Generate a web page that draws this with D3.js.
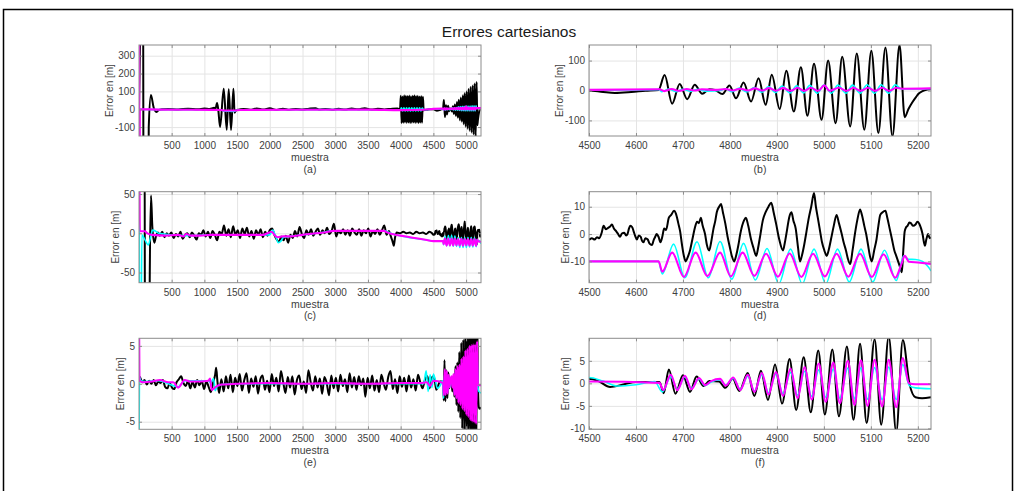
<!DOCTYPE html>
<html>
<head>
<meta charset="utf-8">
<script src="https://cdn.jsdelivr.net/npm/d3@7"></script>
<style>
  body { margin: 0; background: #fff; }
  svg text { font-family: "Liberation Sans", Arial, Helvetica, sans-serif; }
</style>
</head>
<body>
<svg id="fig" width="1017" height="491"></svg>
<script>
// ---------- Ejes y marcas ----------
const rangoCompleto = [1, 5228];
const rangoDetalle = [4500, 5228];
const ticksCompleto = [500, 1000, 1500, 2000, 2500, 3000, 3500, 4000, 4500, 5000];
const ticksDetalle = [4500, 4600, 4700, 4800, 4900, 5000, 5100, 5200];
const limA = [-150, 360], ticksYA = [-100, 0, 100, 200, 300];
const limB = [-152, 152], ticksYB = [-100, 0, 100];
const limC = [-63, 53],   ticksYC = [-50, 0, 50];
const limD = [-17.8, 15.5], ticksYD = [-10, 0, 10];
const limE = [-6, 6],     ticksYE = [-5, 0, 5];
const limF = [-10.2, 10], ticksYF = [-10, -5, 0, 5];

// ---------- Fila 1: error en la primera coordenada [muestra, valor] ----------
const negroF1 = [[1,0],[62,1000],[72,-1000],[138,-1000],[150,-100],[183,80],[225,10],[265,-15],[300,-5],[350,0],[450,2],[600,-1],[750,3],[900,0],[1000,4],[1080,2],[1150,8],[1170,3],[1194,35],[1212,0],[1240,-100],[1296,115],[1342,-115],[1372,112],[1408,-116],[1444,115],[1462,-20],[1480,-8],[1520,-2],[1600,2],[1700,-3],[1800,4],[1900,-2],[2000,5],[2100,-4],[2200,3],[2300,-3],[2400,2],[2500,-2],[2600,3],[2700,6],[2750,-1],[2850,2],[2950,-3],[3050,3],[3150,-2],[3250,4],[3350,0],[3450,6],[3550,-2],[3650,3],[3750,-1],[3850,2],[3950,4],[3990,0],[4003,75],[4015,-78],[4028,72],[4041,-76],[4054,78],[4067,-74],[4080,76],[4093,-77],[4106,74],[4119,-75],[4132,77],[4145,-78],[4158,73],[4171,-76],[4184,76],[4197,-74],[4210,78],[4223,-77],[4236,74],[4249,-75],[4262,76],[4275,-78],[4288,72],[4301,-75],[4314,74],[4327,-76],[4340,70],[4352,-5],[4400,-3],[4450,0],[4500,0],[4530,-5],[4555,-8],[4590,-5],[4620,-1],[4648,2],[4661,52],[4677,-44],[4693,22],[4709,-29],[4725,19],[4741,-11],[4756,4],[4768,2],[4784,-12],[4799,17],[4813,-26],[4829,27],[4845,-37],[4861,41],[4876,-48],[4889,53],[4906,-62],[4920,66],[4936,-70],[4951,78],[4965,-84],[4979,89],[4995,-98],[5009,100],[5025,-109],[5039,113],[5056,-120],[5070,124],[5086,-131],[5101,133],[5116,-142],[5131,144],[5146,-153],[5161,152],[5172,-89],[5180,-62],[5188,-40],[5196,-22],[5202,-10],[5210,-2],[5220,3],[5228,5]];
const cianF1 = [[1,0],[300,-2],[1250,-3],[1290,-10],[1450,-12],[1500,-5],[2000,-3],[3000,-2],[4000,-3],[4010,8],[4030,-10],[4050,8],[4070,-10],[4090,8],[4110,-10],[4130,8],[4150,-10],[4170,8],[4190,-10],[4210,8],[4230,-10],[4250,8],[4270,-10],[4290,8],[4310,-10],[4330,6],[4350,-3],[4500,1],[4650,3],[4655,-4],[4670,5],[4685,-4],[4700,4],[4716,-3],[4732,4],[4748,-2],[4780,0],[4790,6],[4805,-4],[4820,8],[4836,-5],[4852,10],[4868,-6],[4882,13],[4897,-7],[4911,15],[4928,-8],[4942,16],[4957,-8],[4970,17],[4986,-9],[5000,18],[5016,-9],[5030,18],[5047,-9],[5061,18],[5077,-9],[5092,19],[5108,-9],[5122,19],[5138,-9],[5152,19],[5165,5],[5228,6]];
const magentaF1 = [[1,2000],[8,-1000],[14,0],[300,-2],[800,-3],[1250,-4],[1300,-7],[1450,-7],[1550,-4],[2500,-3],[3500,-2],[4000,-5],[4350,-3],[4500,2],[4650,4],[4660,-2],[4676,5],[4692,-1],[4708,5],[4724,0],[4740,4],[4770,2],[4791,5],[4806,0],[4822,6],[4838,0],[4853,7],[4869,0],[4883,8],[4898,-1],[4913,8],[4929,-1],[4944,9],[4958,-1],[4972,9],[4988,-1],[5001,17],[5012,-1],[5032,9],[5048,-1],[5063,9],[5078,-1],[5094,9],[5109,-1],[5124,9],[5139,-1],[5154,9],[5166,6],[5228,7]];

// ---------- Fila 2: error en la segunda coordenada ----------
const negroF2 = [[1,100],[85,200],[95,-300],[150,-300],[165,-60],[184,48],[205,8],[235,-12],[260,-4],[290,1],[320,-3],[355,2],[390,-5],[425,0],[460,-3],[495,1],[530,-6],[565,-1],[600,-4],[635,2],[670,-7],[705,-2],[740,0],[775,-5],[810,1],[845,-3],[880,-8],[915,0],[950,-2],[985,4],[1020,-4],[1055,2],[1090,-6],[1125,3],[1160,-2],[1195,-9],[1230,2],[1265,-1],[1300,10],[1335,-3],[1370,5],[1405,-5],[1440,9],[1475,-2],[1510,4],[1545,-6],[1580,6],[1615,-1],[1650,7],[1685,-4],[1720,3],[1755,-7],[1790,4],[1825,-2],[1860,5],[1895,-5],[1930,2],[1965,-3],[2000,4],[2035,6],[2070,-2],[2105,-8],[2140,-11],[2175,-4],[2210,-9],[2245,-3],[2280,-12],[2315,-2],[2350,-6],[2385,3],[2420,-4],[2455,8],[2490,-1],[2525,-6],[2560,4],[2595,-2],[2630,5],[2665,-3],[2700,2],[2735,6],[2770,-2],[2805,4],[2840,0],[2875,7],[2910,-1],[2945,3],[2980,12],[3015,-4],[3050,3],[3085,0],[3120,5],[3155,-2],[3190,4],[3225,-3],[3260,6],[3295,1],[3330,-2],[3365,5],[3400,-3],[3435,4],[3470,0],[3505,6],[3540,-4],[3575,3],[3610,-1],[3645,5],[3680,-2],[3715,4],[3750,10],[3785,-2],[3820,3],[3850,-4],[3875,-10],[3895,-16],[3915,-5],[3940,1],[3990,0],[4040,2],[4090,0],[4140,1],[4190,-1],[4240,2],[4290,0],[4340,1],[4390,-1],[4440,2],[4480,0],
  [4500,-2],[4506,-1.5],[4512,-2],[4517,-1.2],[4522,-1.5],[4527,0.5],[4531,3],[4536,1.8],[4540,2.2],[4545,2.8],[4549,3.5],[4553,2],[4558,1],[4562,0],[4566,-1],[4570,0.2],[4575,0.5],[4579,-0.5],[4582,0],[4585,2],[4588,3],[4592,2.5],[4595,1],[4599,-1],[4602,-2],[4606,-0.5],[4610,-1],[4613,-2.5],[4616,-3],[4620,-1.5],[4625,-2],[4629,-3.5],[4634,-4],[4638,-2],[4641,-1],[4644,0],[4648,-1],[4652,-3],[4656,-1],[4660,2],[4664,1.5],[4670,6],[4675,7],[4681,8.5],[4685,7.5],[4690,4],[4694,1],[4698,-4],[4702,-8],[4706,-10],[4710,-8.5],[4715,-6],[4720,-2],[4725,2],[4730,4.5],[4734,4],[4738,6],[4742,3],[4747,0],[4751,-4],[4756,-6],[4760,-3],[4765,2],[4769,5],[4772,8],[4777,10],[4781,11],[4785,8],[4790,4],[4795,-1],[4800,-5],[4804,-8],[4809,-10],[4813,-8],[4818,-4],[4822,0],[4826,3],[4830,5],[4834,6],[4839,3],[4845,-2],[4850,-5],[4856,-8],[4860,-5],[4865,0],[4870,5],[4876,8],[4882,10],[4888,11.5],[4893,8],[4898,4],[4905,-2],[4913,-6],[4917,-3],[4922,2],[4926,6],[4931,8],[4935,5],[4940,2],[4945,-5],[4949,-10],[4953,-8],[4958,-4],[4963,1],[4968,6],[4973,10],[4979,15],[4983,10],[4987,6],[4991,2],[4996,-3],[5001,-6],[5006,-8],[5010,-6],[5015,-2],[5021,3],[5027,7],[5032,4],[5038,0],[5042,-3],[5047,-6],[5051,-9],[5056,-11],[5061,-6],[5066,0],[5071,5],[5077,9],[5081,7],[5086,3],[5090,0],[5094,-4],[5098,-8],[5102,-10],[5107,-6],[5112,-2],[5116,3],[5120,7],[5125,8],[5131,8.5],[5135,6],[5140,2],[5145,-2],[5150,-6],[5154,-8],[5158,-10],[5162,-12],[5166,-14],[5169,-6],[5172,1],[5175,2.5],[5178,3],[5182,4.2],[5185,4],[5190,3],[5195,3.5],[5199,4.5],[5203,3.8],[5207,2],[5210,0],[5213,-3],[5215,-4.3],[5218,-2],[5222,0],[5225,-1.5],[5228,-1.2]];
const cianF2 = [[1,100],[18,-200],[28,-200],[45,-2],[90,-8],[143,-15],[175,-6],[210,4],[250,3],[300,0],[700,-3],[1200,-2],[2000,-2],[2045,4],[2090,-4],[2130,-12],[2170,-10],[2210,-5],[2300,-4],[2800,1],[2950,3],[3750,3],[3880,-1],[4100,-5],[4400,-8.5],[4500,-10],[4648,-10],[4656,-14.6],[4680,-3.7],[4704,-16],[4730,-2.8],[4754,-16],[4779,-2.7],[4804,-16.5],[4829,-3.4],[4854,-16.8],[4879,-5.3],[4904,-18.2],[4929,-5.5],[4954,-18.2],[4979,-5.5],[5004,-18.2],[5029,-5.5],[5054,-17.5],[5079,-5.5],[5104,-17.5],[5129,-5.9],[5154,-17],[5170,-8],[5180,-9.2],[5195,-9.3],[5210,-10],[5222,-12],[5228,-13.5]];
const magentaF2 = [[1,300],[14,2.5],[90,2.5],[130,0],[200,-2],[400,-3],[600,-2],[680,-4],[720,-1],[800,-3],[930,-3],[1100,-2],[1500,-2],[1900,-2],[2030,2],[2080,-3],[2120,-5],[2200,-4],[2300,-4],[2500,-2],[2700,0],[2830,1],[2980,3],[3400,3],[3740,3],[3800,1],[3870,-1],[4000,-3],[4144,-5],[4400,-8.5],[4500,-10],[4648,-10],[4656,-13.8],[4677,-6.8],[4702,-15.7],[4727,-6.8],[4752,-15.4],[4779,-6.8],[4802,-15.5],[4827,-6.8],[4852,-15.3],[4877,-7.2],[4902,-15.6],[4927,-7.1],[4952,-15.7],[4977,-7.2],[5002,-15.5],[5027,-7.2],[5052,-15.6],[5077,-7.2],[5102,-15.7],[5127,-7.4],[5152,-16],[5165,-11],[5172,-8],[5181,-10.1],[5200,-10.4],[5228,-10.9]];

// ---------- Fila 3: error en la tercera coordenada ----------
const negroF3 = [[1,1],[20,0.8],[50,0.2],[85,0.5],[120,-0.1],[155,0.4],[190,0],[225,0.5],[260,-0.2],[295,0.3],[330,0.1],[365,0.5],[400,-0.4],[435,-0.6],[470,0.1],[505,-0.5],[540,-0.7],[575,0.2],[610,0.6],[645,1.0],[680,0.1],[715,-0.3],[750,0.4],[785,-0.6],[820,0.3],[855,-0.5],[890,0.5],[925,-0.2],[960,0.4],[995,-0.7],[1030,0.3],[1065,-0.4],[1100,-1.1],[1135,0.2],[1165,1.2],[1180,2.1],[1200,0.3],[1225,-1.2],[1260,0.6],[1295,-1.0],[1330,1.0],[1365,-0.6],[1400,1.2],[1435,-1.1],[1470,0.8],[1505,-0.3],[1540,1.3],[1575,-0.9],[1610,0.5],[1645,1.4],[1680,-1.2],[1715,0.7],[1750,-0.4],[1785,1.0],[1820,-1.3],[1855,0.6],[1890,1.1],[1925,-0.8],[1960,0.4],[1995,-1.1],[2030,1.3],[2065,-0.3],[2100,0.8],[2135,-1.0],[2170,1.7],[2205,0.2],[2240,-1.2],[2275,0.9],[2310,-0.5],[2345,1.0],[2380,-1.4],[2415,0.5],[2450,1.1],[2485,-0.7],[2520,0.3],[2555,-1.2],[2590,1.8],[2625,0.2],[2660,-0.9],[2695,1.0],[2730,-0.5],[2765,0.7],[2800,-1.3],[2835,0.9],[2870,0.1],[2905,-1.5],[2940,1.1],[2975,-0.6],[3010,0.8],[3045,-1.0],[3080,1.2],[3115,-0.3],[3150,0.6],[3185,-1.1],[3220,1.4],[3255,-0.5],[3290,0.9],[3325,-0.8],[3360,1.0],[3395,-0.2],[3430,0.7],[3460,-1.7],[3495,0.8],[3530,-0.6],[3565,1.1],[3600,-0.9],[3635,0.5],[3670,-1.1],[3705,1.2],[3740,0.1],[3775,-0.8],[3810,0.9],[3845,1.7],[3880,-0.7],[3915,0.6],[3950,-1.2],[3985,1.0],[4020,-0.4],[4055,0.8],[4090,-1.0],[4125,1.1],[4160,-0.5],[4195,0.6],[4230,-0.9],[4265,1.2],[4300,0.2],[4335,-0.6],[4370,0.5],[4410,1.0],[4440,-0.6],[4470,0.7],[4500,1.0],[4520,0.5],[4545,-0.8],[4575,-0.2],[4600,0.3],[4650,0.3],[4659,-2.2],[4670,3.1],[4684,-2.3],[4700,1.8],[4715,-1.9],[4729,1.5],[4744,-0.6],[4756,0.5],[4777,0.4],[4790,-1],[4806,1],[4820,-1.7],[4838,2.3],[4852,-2.8],[4866,2.8],[4881,-3.7],[4896,4.2],[4911,-4.5],[4927,5.4],[4941,-5.9],[4957,5.8],[4972,-6.4],[4988,7.3],[5002,-6.9],[5018,7.5],[5032,-7.3],[5049,8.2],[5063,-8.1],[5077,8.8],[5091,-8.8],[5108,9.8],[5122,-9.2],[5138,10.4],[5154,-10.8],[5168,9.6],[5182,0],[5195,-3.1],[5209,-3.3],[5228,-3.1]];
const cianF3 = [[1,-10],[10,0.9],[30,0.4],[100,0.3],[300,0.4],[600,-0.4],[700,0.4],[1060,0.4],[1095,0.1],[1140,0.7],[1165,-0.9],[1200,-0.3],[1265,-0.1],[1500,0],[4000,0],[4350,0],[4390,1.7],[4420,-1.0],[4450,1.2],[4480,-0.5],[4500,1.3],[4530,0.5],[4560,-0.6],[4600,-0.3],[4640,0.4],[4656,-1.9],[4674,1.5],[4688,-1.3],[4704,1.4],[4718,-1.1],[4734,1.0],[4747,-0.5],[4760,0.3],[4779,0.8],[4791,-0.4],[4807,1.1],[4822,-1.3],[4838,1.6],[4852,-1.7],[4868,1.9],[4882,-2.1],[4898,2.1],[4913,-2.3],[4929,2.4],[4944,-2.6],[4959,2.7],[4974,-2.9],[4989,3.0],[5004,-3.1],[5020,3.2],[5034,-3.3],[5051,3.4],[5065,-3.4],[5079,3.5],[5093,-3.5],[5108,3.5],[5124,-3.6],[5138,3.6],[5154,-3.6],[5168,4.2],[5182,-0.5],[5195,-1.0],[5228,-1.2]];
const magentaF3 = [[1,10],[8,0.4],[70,0.2],[200,0.3],[320,0.5],[450,0.2],[525,0.2],[600,-0.5],[700,0.5],[780,0.3],[930,0.3],[1060,0.4],[1087,0.7],[1112,-0.8],[1190,-0.3],[1265,-0.1],[1500,0],[2000,0.1],[2500,0],[3000,0.1],[3500,0],[4000,0.1],[4300,0.1],[4400,0.2],[4450,-0.3],[4500,0.4],[4650,0.1],[4658,-1.5],[4674,1.9],[4688,-1.5],[4704,1.7],[4718,-1.3],[4734,1.2],[4747,-0.4],[4760,0.5],[4779,1.0],[4791,-0.5],[4807,1.3],[4822,-1.5],[4838,1.9],[4852,-1.9],[4868,2.3],[4882,-2.5],[4898,2.5],[4913,-2.8],[4929,3.3],[4944,-3.3],[4959,3.6],[4974,-3.6],[4989,4.4],[5004,-4.1],[5020,4.6],[5034,-4.4],[5051,5.0],[5065,-4.8],[5079,5.1],[5093,-5.0],[5108,5.2],[5124,-5.1],[5138,5.2],[5154,-5.3],[5168,5.6],[5181,0],[5195,-0.2],[5228,-0.2]];

// ---------- Composición de la figura ----------
const colores = { negro: "#000000", cian: "#00ffff", magenta: "#ff00ff" };
const grosores = { negro: 2, cian: 1.6, magenta: 2.1 };
const filas = [
  { negro: negroF1, cian: cianF1, magenta: magentaF1 },
  { negro: negroF2, cian: cianF2, magenta: magentaF2 },
  { negro: negroF3, cian: cianF3, magenta: magentaF3 }
];
const paneles = [
  { nombre: "(a)", fila: 0, col: 0, xDom: rangoCompleto, xTicks: ticksCompleto, yDom: limA, yTicks: ticksYA },
  { nombre: "(b)", fila: 0, col: 1, xDom: rangoDetalle,  xTicks: ticksDetalle,  yDom: limB, yTicks: ticksYB },
  { nombre: "(c)", fila: 1, col: 0, xDom: rangoCompleto, xTicks: ticksCompleto, yDom: limC, yTicks: ticksYC },
  { nombre: "(d)", fila: 1, col: 1, xDom: rangoDetalle,  xTicks: ticksDetalle,  yDom: limD, yTicks: ticksYD },
  { nombre: "(e)", fila: 2, col: 0, xDom: rangoCompleto, xTicks: ticksCompleto, yDom: limE, yTicks: ticksYE },
  { nombre: "(f)", fila: 2, col: 1, xDom: rangoDetalle,  xTicks: ticksDetalle,  yDom: limF, yTicks: ticksYF }
];

const izquierda = [139, 589];
const arriba = [45, 191.7, 338.3];
const W = 342, H = 91;
const colorTexto = "#404040";
const colorCaja = "#8c8c8c";
const colorRejilla = "#e4e4e4";
const tamTexto = 10;

const svg = d3.select("#fig");
svg.append("rect").attr("width", 1017).attr("height", 491).attr("fill", "#fff");

// marco exterior
svg.append("rect")
  .attr("x", 3.5).attr("y", 9.5).attr("width", 1009).attr("height", 492)
  .attr("fill", "none").attr("stroke", "#000").attr("stroke-width", 1.5);

svg.append("text")
  .attr("x", 509).attr("y", 36.5)
  .attr("text-anchor", "middle")
  .attr("font-size", 15.5)
  .attr("fill", "#1a1a1a")
  .text("Errores cartesianos");

const fmt = d => String(d);

paneles.forEach((p, i) => {
  const x0 = izquierda[p.col], y0 = arriba[p.fila];
  const g = svg.append("g").attr("transform", `translate(${x0},${y0})`);
  const x = d3.scaleLinear().domain(p.xDom).range([0, W]);
  const y = d3.scaleLinear().domain(p.yDom).range([H, 0]);

  // rejilla
  const gx = g.append("g").call(d3.axisBottom(x).tickValues(p.xTicks).tickSize(H).tickFormat(""));
  const gy = g.append("g").call(d3.axisLeft(y).tickValues(p.yTicks).tickSize(-W).tickFormat(""));
  [gx, gy].forEach(s => {
    s.select(".domain").remove();
    s.selectAll("line").attr("stroke", colorRejilla).attr("stroke-width", 1);
  });

  // series
  const idClip = "clip" + i;
  g.append("clipPath").attr("id", idClip)
    .append("rect").attr("width", W).attr("height", H);
  const linea = d3.line()
    .x(d => x(d[0])).y(d => y(d[1]))
    .curve(d3.curveMonotoneX);
  const datos = filas[p.fila];
  const gs = g.append("g").attr("clip-path", `url(#${idClip})`);
  ["negro", "cian", "magenta"].forEach(k => {
    gs.append("path")
      .datum(datos[k])
      .attr("d", linea)
      .attr("fill", "none")
      .attr("stroke", colores[k])
      .attr("stroke-width", grosores[k])
      .attr("stroke-linejoin", "round");
  });

  // caja
  g.append("rect").attr("width", W).attr("height", H)
    .attr("fill", "none").attr("stroke", colorCaja).attr("stroke-width", 1);

  // ejes
  const ejeX = g.append("g").attr("transform", `translate(0,${H})`)
    .call(d3.axisBottom(x).tickValues(p.xTicks).tickSizeInner(-3).tickSizeOuter(0).tickPadding(6).tickFormat(fmt));
  const ejeXs = g.append("g")
    .call(d3.axisTop(x).tickValues(p.xTicks).tickSizeInner(-3).tickSizeOuter(0).tickFormat(""));
  const ejeY = g.append("g")
    .call(d3.axisLeft(y).tickValues(p.yTicks).tickSizeInner(-3).tickSizeOuter(0).tickPadding(4).tickFormat(fmt));
  const ejeYd = g.append("g").attr("transform", `translate(${W},0)`)
    .call(d3.axisRight(y).tickValues(p.yTicks).tickSizeInner(-3).tickSizeOuter(0).tickFormat(""));
  [ejeX, ejeXs, ejeY, ejeYd].forEach(s => {
    s.select(".domain").remove();
    s.selectAll("line").attr("stroke", colorCaja);
    s.attr("font-family", null).attr("font-size", null);
    s.selectAll("text").attr("fill", colorTexto).attr("font-size", tamTexto);
  });

  // etiquetas
  let anchoMax = 0;
  ejeY.selectAll("text").each(function () { anchoMax = Math.max(anchoMax, this.getComputedTextLength()); });
  const xEtiqueta = -4 - anchoMax - 2;
  g.append("text")
    .attr("transform", `translate(${xEtiqueta},${H / 2}) rotate(-90)`)
    .attr("text-anchor", "middle")
    .attr("font-size", tamTexto).attr("fill", colorTexto)
    .text("Error en [m]");
  g.append("text")
    .attr("x", W / 2).attr("y", H + 25)
    .attr("text-anchor", "middle")
    .attr("font-size", tamTexto + 0.5).attr("fill", colorTexto)
    .text("muestra");
  g.append("text")
    .attr("x", W / 2).attr("y", H + 36.5)
    .attr("text-anchor", "middle")
    .attr("font-size", tamTexto + 0.5).attr("fill", colorTexto)
    .text(p.nombre);
});
</script>
</body>
</html>
